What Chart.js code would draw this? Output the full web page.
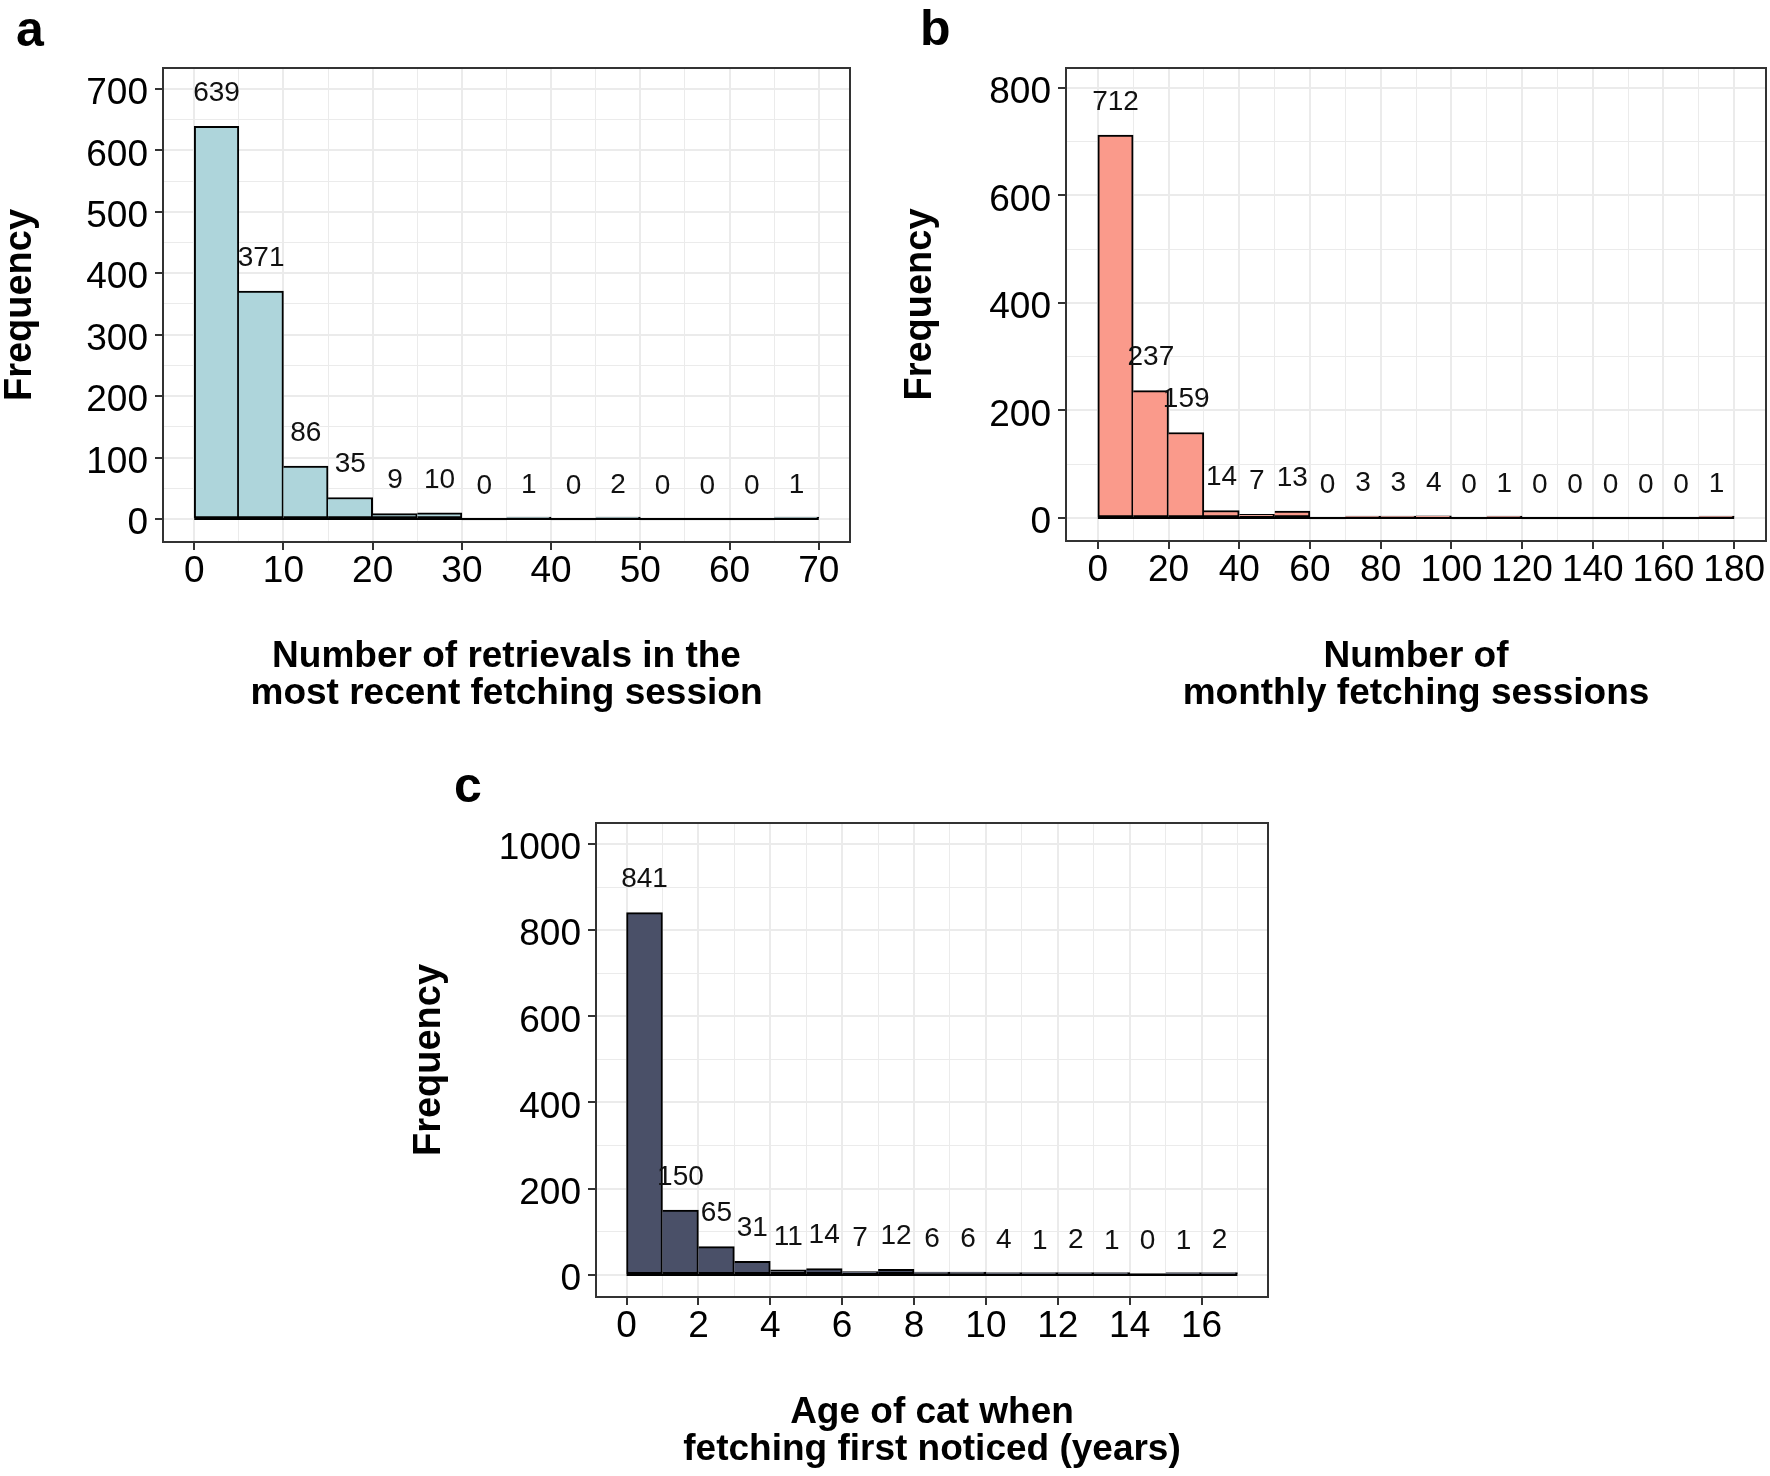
<!DOCTYPE html>
<html>
<head>
<meta charset="utf-8">
<script src="https://cdn.jsdelivr.net/npm/chart.js@4.4.1/dist/chart.umd.min.js"></script>
<style>
html,body{margin:0;padding:0;background:#fff;}
body{width:1770px;height:1476px;position:relative;overflow:hidden;font-family:"Liberation Sans",Arial,sans-serif;}
canvas{position:absolute;}
.tag{position:absolute;font-weight:bold;font-size:50px;line-height:50px;color:#000;font-family:"Liberation Sans",Arial,sans-serif;}
</style>
</head>
<body>
<div class="tag" style="left:16px;top:4px">a</div>
<div class="tag" style="left:920px;top:3px">b</div>
<div class="tag" style="left:454px;top:760px">c</div>
<canvas id="ca" width="880" height="740" style="left:0px;top:0px"></canvas>
<canvas id="cb" width="890" height="740" style="left:880px;top:0px"></canvas>
<canvas id="cc" width="900" height="736" style="left:400px;top:740px"></canvas>
<script>
// ---------- Panel a ----------
const aBinStart = [0, 5, 10, 15, 20, 25, 30, 35, 40, 45, 50, 55, 60, 65];
const aCounts   = [639, 371, 86, 35, 9, 10, 0, 1, 0, 2, 0, 0, 0, 1];
const aBinWidth = 5;
const aXTicks = [0, 10, 20, 30, 40, 50, 60, 70];
const aXMinor = [5, 15, 25, 35, 45, 55, 65];
const aYTicks = [0, 100, 200, 300, 400, 500, 600, 700];
const aYMinor = [50, 150, 250, 350, 450, 550, 650];
const aXTitle = ['Number of retrievals in the', 'most recent fetching session'];

// ---------- Panel b ----------
const bBinStart = [0, 10, 20, 30, 40, 50, 60, 70, 80, 90, 100, 110, 120, 130, 140, 150, 160, 170];
const bCounts   = [712, 237, 159, 14, 7, 13, 0, 3, 3, 4, 0, 1, 0, 0, 0, 0, 0, 1];
const bBinWidth = 10;
const bXTicks = [0, 20, 40, 60, 80, 100, 120, 140, 160, 180];
const bXMinor = [10, 30, 50, 70, 90, 110, 130, 150, 170];
const bYTicks = [0, 200, 400, 600, 800];
const bYMinor = [100, 300, 500, 700];
const bXTitle = ['Number of', 'monthly fetching sessions'];

// ---------- Panel c ----------
const cBinStart = [0, 1, 2, 3, 4, 5, 6, 7, 8, 9, 10, 11, 12, 13, 14, 15, 16];
const cCounts   = [841, 150, 65, 31, 11, 14, 7, 12, 6, 6, 4, 1, 2, 1, 0, 1, 2];
const cBinWidth = 1;
const cXTicks = [0, 2, 4, 6, 8, 10, 12, 14, 16];
const cXMinor = [1, 3, 5, 7, 9, 11, 13, 15, 17];
const cYTicks = [0, 200, 400, 600, 800, 1000];
const cYMinor = [100, 300, 500, 700, 900];
const cXTitle = ['Age of cat when', 'fetching first noticed (years)'];

const yTitle = 'Frequency';

Chart.defaults.font.family = '"Liberation Sans", Arial, sans-serif';
Chart.defaults.color = '#000';

function mergeTicks(major, minor) {
  const t = major.map(v => ({value: v, minor: false})).concat(minor.map(v => ({value: v, minor: true})));
  t.sort((p, q) => p.value - q.value);
  return t;
}

const histExtras = {
  id: 'histExtras',
  afterDatasetsDraw(chart) {
    const ctx = chart.ctx;
    const meta = chart.getDatasetMeta(0);
    const ys = chart.scales.y;
    const xs = chart.scales.x;
    const ds = chart.data.datasets[0].data;
    const o = chart.options.plugins.histExtras;
    // baseline of the histogram (zero-count bins appear as a line at y = 0)
    ctx.save();
    const y0 = Math.round(ys.getPixelForValue(0));
    ctx.strokeStyle = '#000';
    ctx.lineWidth = 2;
    ctx.beginPath();
    ctx.moveTo(xs.getPixelForValue(o.first), y0);
    ctx.lineTo(xs.getPixelForValue(o.last), y0);
    ctx.stroke();
    ctx.font = '28px "Liberation Sans", Arial, sans-serif';
    ctx.fillStyle = '#111';
    ctx.textAlign = 'center';
    ctx.textBaseline = 'middle';
    meta.data.forEach((el, i) => {
      const v = ds[i].y;
      ctx.fillText(String(v), el.x, ys.getPixelForValue(v) - 33);
    });
    ctx.restore();
  },
  afterDraw(chart) {
    const a = chart.chartArea;
    const ctx = chart.ctx;
    ctx.save();
    ctx.strokeStyle = '#333';
    ctx.lineWidth = 2;
    ctx.strokeRect(a.left, a.top, a.right - a.left, a.bottom - a.top);
    ctx.restore();
  }
};

function makeHist(id, o) {
  const data = o.starts.map((s, i) => ({x: s + o.width / 2, y: o.counts[i]}));
  const gridLW = c => (c.tick && c.tick.minor) ? 1 : 2;
  const tickCol = c => (c.tick && c.tick.minor) ? 'rgba(0,0,0,0)' : '#333';
  const lab = (v, i, t) => (t[i] && t[i].minor) ? '' : String(v);
  return new Chart(document.getElementById(id), {
    type: 'bar',
    data: {
      datasets: [{
        data: data,
        backgroundColor: o.fill,
        borderColor: '#000',
        borderWidth: c => ({top: 2, bottom: 2, right: 2, left: c.dataIndex === 0 ? 2 : 0}),
        borderSkipped: false,
        barPercentage: 1,
        categoryPercentage: 1,
        minBarLength: 2
      }]
    },
    options: {
      responsive: false,
      animation: false,
      devicePixelRatio: 1,
      events: [],
      layout: {padding: o.pad},
      plugins: {
        legend: {display: false}, tooltip: {enabled: false},
        histExtras: {first: o.starts[0], last: o.starts[o.starts.length - 1] + o.width}
      },
      scales: {
        x: {
          type: 'linear',
          min: o.xRange[0], max: o.xRange[1],
          bounds: 'data', offset: false,
          afterBuildTicks: s => { s.ticks = mergeTicks(o.xTicks, o.xMinor); },
          afterFit: s => { s.height = o.xHeight; },
          border: {display: false},
          grid: {offset: false, color: '#EBEBEB', lineWidth: gridLW, drawTicks: true,
                 tickLength: 8, tickColor: tickCol, tickWidth: 2},
          ticks: {autoSkip: false, maxRotation: 0, minRotation: 0, padding: 3.5,
                  color: '#000', font: {size: 37, lineHeight: 1}, callback: lab},
          title: {display: true, text: o.xTitle, color: '#000',
                  font: {size: 37, weight: 'bold', lineHeight: '37px'},
                  padding: {top: 0, bottom: 0}}
        },
        y: {
          type: 'linear',
          min: o.yRange[0], max: o.yRange[1],
          bounds: 'data', beginAtZero: false,
          afterBuildTicks: s => { s.ticks = mergeTicks(o.yTicks, o.yMinor); },
          afterFit: s => { s.width = o.yWidth; },
          border: {display: false},
          grid: {color: '#EBEBEB', lineWidth: gridLW, drawTicks: true,
                 tickLength: 8, tickColor: tickCol, tickWidth: 2},
          ticks: {autoSkip: false, padding: 7, labelOffset: 5,
                  color: '#000', font: {size: 37, lineHeight: 1}, callback: lab},
          title: {display: true, text: yTitle, color: '#000',
                  font: {size: 38, weight: 'bold', lineHeight: 1},
                  padding: {top: o.yTitlePad, bottom: 0}}
        }
      }
    },
    plugins: [histExtras]
  });
}

makeHist('ca', {
  starts: aBinStart, counts: aCounts, width: aBinWidth, fill: '#AED5DB',
  xTicks: aXTicks, xMinor: aXMinor, yTicks: aYTicks, yMinor: aYMinor, xTitle: aXTitle,
  xRange: [-3.5, 73.5], yRange: [-37.4, 734],
  pad: {left: 0, top: 68, right: 30, bottom: 28}, yWidth: 163, xHeight: 170, yTitlePad: 2
});
makeHist('cb', {
  starts: bBinStart, counts: bCounts, width: bBinWidth, fill: '#FA9A8B',
  xTicks: bXTicks, xMinor: bXMinor, yTicks: bYTicks, yMinor: bYMinor, xTitle: bXTitle,
  xRange: [-9, 189], yRange: [-42.8, 837],
  pad: {left: 0, top: 68, right: 4, bottom: 28}, yWidth: 186, xHeight: 171, yTitlePad: 22
});
makeHist('cc', {
  starts: cBinStart, counts: cCounts, width: cBinWidth, fill: '#4A5068',
  xTicks: cXTicks, xMinor: cXMinor, yTicks: cYTicks, yMinor: cYMinor, xTitle: cXTitle,
  xRange: [-0.85, 17.85], yRange: [-52, 1049],
  pad: {left: 0, top: 83, right: 32, bottom: 8}, yWidth: 196, xHeight: 171, yTitlePad: 11
});
</script>
</body>
</html>
